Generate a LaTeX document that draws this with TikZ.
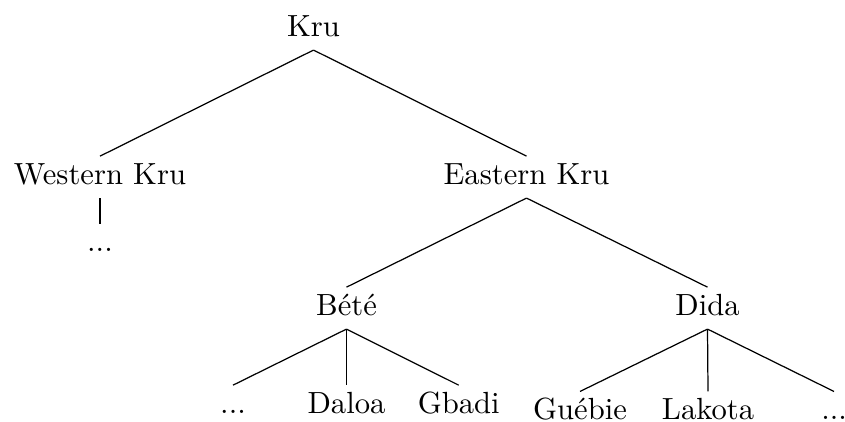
\documentclass[tikz,border=0pt]{standalone}
\usepackage{fontspec}
\begin{document}
\begin{tikzpicture}[x=0.3268pt, y=-0.3268pt,
  lang/.style={anchor=base, inner sep=0pt, font=\fontsize{10}{12}\selectfont},
  branch/.style={line width=0.4pt}]
\useasboundingbox (0,0) rectangle (845,421);

% language nodes, placed by their baselines
\node[lang] (kru)    at (313.5,36)  {Kru};
\node[lang] (wk)     at (100,184)   {Western Kru};
\node[lang] (ek)     at (526.5,184) {Eastern Kru};
\node[lang] (wdots)  at (100,251.7) {...};
\node[lang] (bete)   at (346.5,315) {Bété};
\node[lang] (dida)   at (707.5,315) {Dida};
\node[lang] (bdots)  at (233,413)   {...};
\node[lang] (daloa)  at (346.5,413) {Daloa};
\node[lang] (gbadi)  at (458.7,413) {Gbadi};
\node[lang] (guebie) at (580,419.3) {Guébie};
\node[lang] (lakota) at (708,419.3) {Lakota};
\node[lang] (ddots)  at (834,419.3) {...};

% branches: from just below the parent to just above the child
\foreach \p/\c in {kru/wk, kru/ek, wk/wdots, ek/bete, ek/dida,
                   bete/bdots, bete/daloa, bete/gbadi,
                   dida/guebie, dida/lakota, dida/ddots}
  \draw[branch] ([yshift=-4.6pt]\p.base) -- ([yshift=9.1pt]\c.base);
\end{tikzpicture}
\end{document}
